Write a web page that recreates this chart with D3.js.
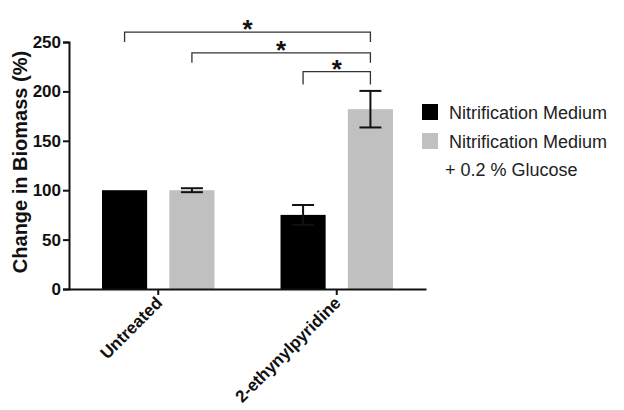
<!DOCTYPE html>
<html>
<head>
<meta charset="utf-8">
<script src="https://cdn.jsdelivr.net/npm/d3@7"></script>
<style>
  body { margin: 0; background: #fff; }
  text { font-family: "Liberation Sans", Arial, sans-serif; }
</style>
</head>
<body>
<div id="chart"></div>
<script>
// data
const categories = ["Untreated", "2-ethynylpyridine"];
const seriesNames = ["Nitrification Medium", "Nitrification Medium\n+ 0.2 % Glucose"];
const medium = [100, 75];
const mediumErr = [0, 10];
const glucose = [100, 182];
const glucoseErr = [2, 18.5];
const yTicks = [0, 50, 100, 150, 200, 250];
// significance brackets: [category, series] -> [category, series], level in %
const brackets = [
  {from: [0, 0], to: [1, 1], level: 260, leg: 250},
  {from: [0, 1], to: [1, 1], level: 239, leg: 229},
  {from: [1, 0], to: [1, 1], level: 220, leg: 207}
];

const colors = ["#000000", "#c0c0c0"];
const width = 624, height = 410;

const svg = d3.select("#chart").append("svg")
  .attr("width", width)
  .attr("height", height);

const x0 = d3.scaleBand()
  .domain(categories)
  .range([69, 426])
  .paddingInner(0.37)
  .paddingOuter(0.185);

const x1 = d3.scaleBand()
  .domain([0, 1])
  .range([0, x0.bandwidth()])
  .paddingInner(0.33);

const y = d3.scaleLinear()
  .domain([0, 250])
  .range([289, 42]);

const values = [medium, glucose];
const errors = [mediumErr, glucoseErr];

function barCenter(ci, si){
  return x0(categories[ci]) + x1(si) + x1.bandwidth()/2;
}

// bars
seriesNames.forEach(function(name, si){
  svg.append("g").selectAll("rect")
    .data(values[si])
    .enter().append("rect")
    .attr("x", (d, i) => x0(categories[i]) + x1(si))
    .attr("y", d => y(d))
    .attr("width", x1.bandwidth())
    .attr("height", d => y(0) - y(d))
    .attr("fill", colors[si]);
});

// error bars
seriesNames.forEach(function(name, si){
  values[si].forEach(function(v, ci){
    let e = errors[si][ci];
    if(!e) return;
    let cx = barCenter(ci, si);
    let g = svg.append("g").attr("stroke", "#111").attr("stroke-width", 2);
    g.append("line").attr("x1", cx).attr("x2", cx).attr("y1", y(v - e)).attr("y2", y(v + e));
    g.append("line").attr("x1", cx - 11).attr("x2", cx + 11).attr("y1", y(v + e)).attr("y2", y(v + e));
    g.append("line").attr("x1", cx - 11).attr("x2", cx + 11).attr("y1", y(v - e)).attr("y2", y(v - e));
  });
});

// y axis
const yAxis = svg.append("g")
  .attr("transform", "translate(69,0)")
  .call(d3.axisLeft(y).tickValues(yTicks).tickSize(6).tickPadding(2));
yAxis.select(".domain").attr("stroke", "#111").attr("stroke-width", 2);
yAxis.selectAll(".tick line").attr("stroke", "#111").attr("stroke-width", 2);
yAxis.selectAll(".tick text")
  .attr("fill", "#111")
  .style("font-size", "17px")
  .style("font-weight", "bold")
  .style("font-family", "'Liberation Sans', Arial, sans-serif");

// x axis
const xAxis = svg.append("g")
  .attr("transform", "translate(0,289)")
  .call(d3.axisBottom(x0).tickSize(6).tickSizeOuter(0));
xAxis.select(".domain").attr("stroke", "#111").attr("stroke-width", 2);
xAxis.selectAll(".tick line").attr("stroke", "#111").attr("stroke-width", 2);
xAxis.selectAll(".tick text")
  .attr("fill", "#111")
  .attr("text-anchor", "end")
  .attr("dy", null)
  .attr("y", 0)
  .attr("transform", "translate(5,15) rotate(-45)")
  .style("font-size", "17px")
  .style("font-weight", "bold")
  .style("font-family", "'Liberation Sans', Arial, sans-serif");

// y title
svg.append("text")
  .attr("transform", "translate(27,162) rotate(-90)")
  .attr("text-anchor", "middle")
  .attr("fill", "#111")
  .style("font-size", "20px")
  .style("font-weight", "bold")
  .text("Change in Biomass (%)");

// brackets
brackets.forEach(function(b){
  let xa = barCenter(b.from[0], b.from[1]);
  let xb = barCenter(b.to[0], b.to[1]);
  let yl = y(b.level), yg = y(b.leg);
  svg.append("path")
    .attr("d", "M" + xa + "," + yg + "V" + yl + "H" + xb + "V" + yg)
    .attr("fill", "none")
    .attr("stroke", "#333")
    .attr("stroke-width", 1.3);
  svg.append("text")
    .attr("x", (xa + xb)/2)
    .attr("y", yl + 6)
    .attr("text-anchor", "middle")
    .attr("fill", "#111")
    .style("font-size", "26px")
    .style("font-weight", "bold")
    .text("*");
});

// legend
const legend = svg.append("g").attr("transform", "translate(422,104)");
seriesNames.forEach(function(name, si){
  let g = legend.append("g").attr("transform", "translate(0," + (si * 29) + ")");
  g.append("rect").attr("width", 16).attr("height", 16).attr("fill", colors[si]);
  name.split("\n").forEach(function(line, li){
    g.append("text")
      .attr("x", li === 0 ? 27 : 23)
      .attr("y", 15 + li * 28)
      .attr("fill", "#222")
      .style("font-size", "18px")
      .text(line);
  });
});
</script>
</body>
</html>
